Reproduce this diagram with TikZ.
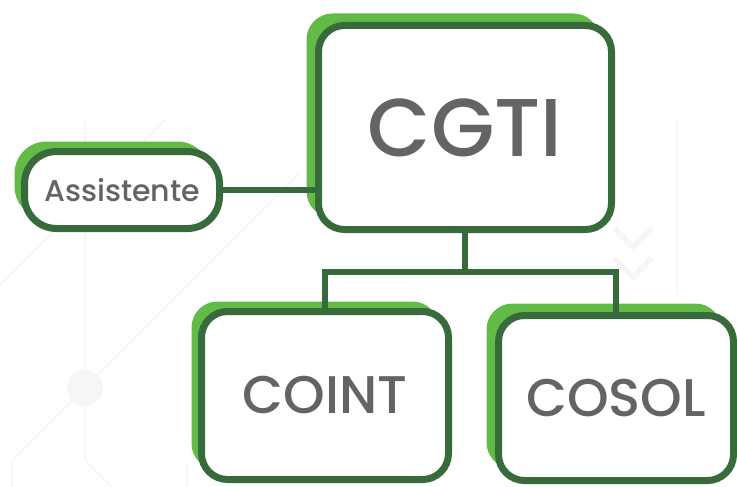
\documentclass[tikz,border=0pt]{standalone}
\usepackage{fontspec}
\setmainfont{Poppins}[UprightFont=* Medium]
\usetikzlibrary{shadows}

\definecolor{gDark}{HTML}{386B3B}
\definecolor{gLight}{HTML}{62BB47}
\definecolor{txtGray}{HTML}{636466}
\definecolor{bgGray}{HTML}{F5F6F6}

\begin{document}
\begin{tikzpicture}[
    x=1pt, y=-1pt,
    orgbox/.style={draw=gDark, line width=7pt, fill=white, rounded corners=26pt, text=txtGray, inner sep=0pt},
    greenshadow/.style={general shadow={fill=gLight, shadow xshift=-#1, shadow yshift=#1}},
    link/.style={draw=gDark, line width=6pt},
    bgline/.style={draw=bgGray, line width=2pt},
]
\useasboundingbox (0,0) rectangle (737,487);

% ===== faint background pattern =====
\draw[bgline] (85,120) -- (85,460) -- (112,487);
\draw[bgline] (12,487) -- (12,461) -- (300,173);
\draw[bgline] (0,285) -- (165,120);
\fill[bgGray] (85,388) circle (18);
\draw[bgline] (187,463) -- (187,487);
\draw[bgline] (677,120) -- (677,295);
\draw[bgline, line width=6pt] (614,228) -- (633,247) -- (652,228);
\draw[bgline, line width=6pt] (614,258) -- (633,277) -- (652,258);

% ===== boxes =====
\node[orgbox, greenshadow=12pt, minimum width=293pt, minimum height=204pt,
      font=\fontsize{82}{90}\selectfont] (cgti) at (465,127.5) {CGTI};

\node[orgbox, greenshadow=10pt, rounded corners=32pt, minimum width=195pt, minimum height=77pt,
      font=\fontsize{30}{36}\selectfont] (asst) at (122,190) {Assistente};

\node[orgbox, greenshadow=10pt, minimum width=247pt, minimum height=168pt,
      font=\fontsize{53}{60}\selectfont] (coint) at (325,395.5) {COINT};

\node[orgbox, greenshadow=12pt, minimum width=235pt, minimum height=165pt,
      font=\fontsize{53}{60}\selectfont] (cosol) at (616,398) {COSOL};

% ===== connectors =====
\draw[link] (asst.east) -- (asst.east -| cgti.west);
\draw[link] (cgti.south) -- ++(0,39) coordinate (bus);
\draw[link] (coint.north) |- (bus) -| (cosol.north);

\end{tikzpicture}
\end{document}
